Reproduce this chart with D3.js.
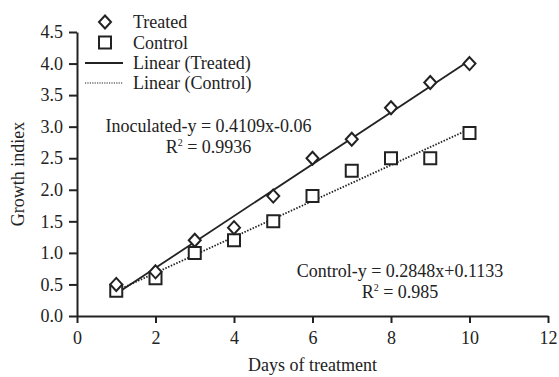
<!DOCTYPE html>
<html lang="en">
<head>
    <meta charset="UTF-8">
    <script src="https://d3js.org/d3.v7.min.js"></script>
    <title>Growth index</title>
    <style>
        body { margin: 0; background: #fff; }
        text { font-family: "Liberation Serif", "Times New Roman", serif; fill: #222; }
    </style>
</head>
<body>
    <div id="chart"></div>
    <script>
        // data
        const days = [1, 2, 3, 4, 5, 6, 7, 8, 9, 10];
        const treated = [0.5, 0.7, 1.2, 1.4, 1.9, 2.5, 2.8, 3.3, 3.7, 4.0];
        const control = [0.4, 0.6, 1.0, 1.2, 1.5, 1.9, 2.3, 2.5, 2.5, 2.9];
        const xTicks = [0, 2, 4, 6, 8, 10, 12];
        const yTicks = [0, 0.5, 1, 1.5, 2, 2.5, 3, 3.5, 4, 4.5];
        const legendLabels = ["Treated", "Control", "Linear (Treated)", "Linear (Control)"];
        const eqTreated = ["Inoculated-y = 0.4109x-0.06", "0.9936"];
        const eqControl = ["Control-y = 0.2848x+0.1133", "0.985"];

        const width = 559, height = 377;
        const ink = "#222";
        const serif = "Liberation Serif, Times New Roman, serif";

        const svg = d3.select("#chart").append("svg")
            .attr("width", width)
            .attr("height", height);

        const x = d3.scaleLinear().domain([0, 12]).range([77, 548]);
        const y = d3.scaleLinear().domain([0, 4.5]).range([316, 32]);

        // axes
        const xAxis = svg.append("g")
            .attr("transform", `translate(0,${y(0)})`)
            .call(d3.axisBottom(x).tickValues(xTicks).tickSize(7).tickSizeOuter(0).tickPadding(8)
                .tickFormat(d3.format("d")));
        const yAxis = svg.append("g")
            .attr("transform", `translate(${x(0)},0)`)
            .call(d3.axisLeft(y).tickValues(yTicks).tickSize(8).tickSizeOuter(0).tickPadding(6)
                .tickFormat(d3.format(".1f")));
        [xAxis, yAxis].forEach(g => {
            g.attr("font-family", serif).attr("font-size", 18);
            g.select(".domain").attr("stroke", ink).attr("stroke-width", 2);
            g.selectAll(".tick line").attr("stroke", ink).attr("stroke-width", 2);
            g.selectAll(".tick text").attr("fill", ink);
        });

        // axis titles
        svg.append("text")
            .attr("x", (x(0) + x(12)) / 2)
            .attr("y", 371)
            .attr("text-anchor", "middle")
            .attr("font-size", 18)
            .text("Days of treatment");
        svg.append("text")
            .attr("transform", `translate(24,${(y(0) + y(4.5)) / 2}) rotate(-90)`)
            .attr("text-anchor", "middle")
            .attr("font-size", 18)
            .text("Growth indiex");

        // least squares fit, same as the spreadsheet trendline
        function fit(xs, ys) {
            const mx = d3.mean(xs), my = d3.mean(ys);
            const sxy = d3.sum(xs, (v, i) => (v - mx) * (ys[i] - my));
            const sxx = d3.sum(xs, v => (v - mx) * (v - mx));
            const b = sxy / sxx;
            return { b: b, a: my - b * mx };
        }
        const fitT = fit(days, treated);
        const fitC = fit(days, control);
        const xEnds = d3.extent(days);

        const line = d3.line().x(d => x(d[0])).y(d => y(d[1]));

        svg.append("path")
            .datum(xEnds.map(d => [d, fitT.a + fitT.b * d]))
            .attr("d", line)
            .attr("fill", "none")
            .attr("stroke", ink)
            .attr("stroke-width", 1.8);
        svg.append("path")
            .datum(xEnds.map(d => [d, fitC.a + fitC.b * d]))
            .attr("d", line)
            .attr("fill", "none")
            .attr("stroke", ink)
            .attr("stroke-width", 1.8)
            .attr("stroke-dasharray", "1.5,1.5");

        // markers
        const diamond = "M0,-6.5L6,0L0,6.5L-6,0Z";
        const square = "M-6,-6H6V6H-6Z";

        svg.selectAll(".ctl")
            .data(days)
            .enter().append("path")
            .attr("class", "ctl")
            .attr("d", square)
            .attr("transform", (d, i) => `translate(${x(d)},${y(control[i])})`)
            .attr("fill", "#fff")
            .attr("stroke", ink)
            .attr("stroke-width", 2);
        svg.selectAll(".trt")
            .data(days)
            .enter().append("path")
            .attr("class", "trt")
            .attr("d", diamond)
            .attr("transform", (d, i) => `translate(${x(d)},${y(treated[i])})`)
            .attr("fill", "#fff")
            .attr("stroke", ink)
            .attr("stroke-width", 2);

        // legend
        const legend = svg.append("g");
        const rowY = [22, 42.5, 63, 83];
        legendLabels.forEach((lab, i) => {
            legend.append("text")
                .attr("x", 133)
                .attr("y", rowY[i])
                .attr("dy", "0.35em")
                .attr("font-size", 18)
                .text(lab);
        });
        legend.append("path").attr("d", diamond)
            .attr("transform", `translate(105,${rowY[0]})`)
            .attr("fill", "#fff").attr("stroke", ink).attr("stroke-width", 2);
        legend.append("path").attr("d", square)
            .attr("transform", `translate(105,${rowY[1]})`)
            .attr("fill", "#fff").attr("stroke", ink).attr("stroke-width", 2);
        legend.append("line")
            .attr("x1", 85).attr("x2", 123).attr("y1", rowY[2]).attr("y2", rowY[2])
            .attr("stroke", ink).attr("stroke-width", 1.8);
        legend.append("line")
            .attr("x1", 85).attr("x2", 123).attr("y1", rowY[3]).attr("y2", rowY[3])
            .attr("stroke", ink).attr("stroke-width", 1.2)
            .attr("stroke-dasharray", "1.2,1.2");

        // equation labels
        function equation(cx, cy, lines) {
            svg.append("text")
                .attr("x", cx).attr("y", cy)
                .attr("dy", "0.35em")
                .attr("text-anchor", "middle")
                .attr("font-size", 18)
                .text(lines[0]);
            const t = svg.append("text")
                .attr("x", cx).attr("y", cy + 21)
                .attr("dy", "0.35em")
                .attr("text-anchor", "middle")
                .attr("font-size", 18);
            t.append("tspan").text("R");
            t.append("tspan").attr("font-size", 10).attr("dy", "-0.75em").text("2");
            t.append("tspan").attr("dy", "0.42em").text(" = " + lines[1]);
        }
        equation(208.5, 126, eqTreated);
        equation(400, 271, eqControl);
    </script>
</body>
</html>
